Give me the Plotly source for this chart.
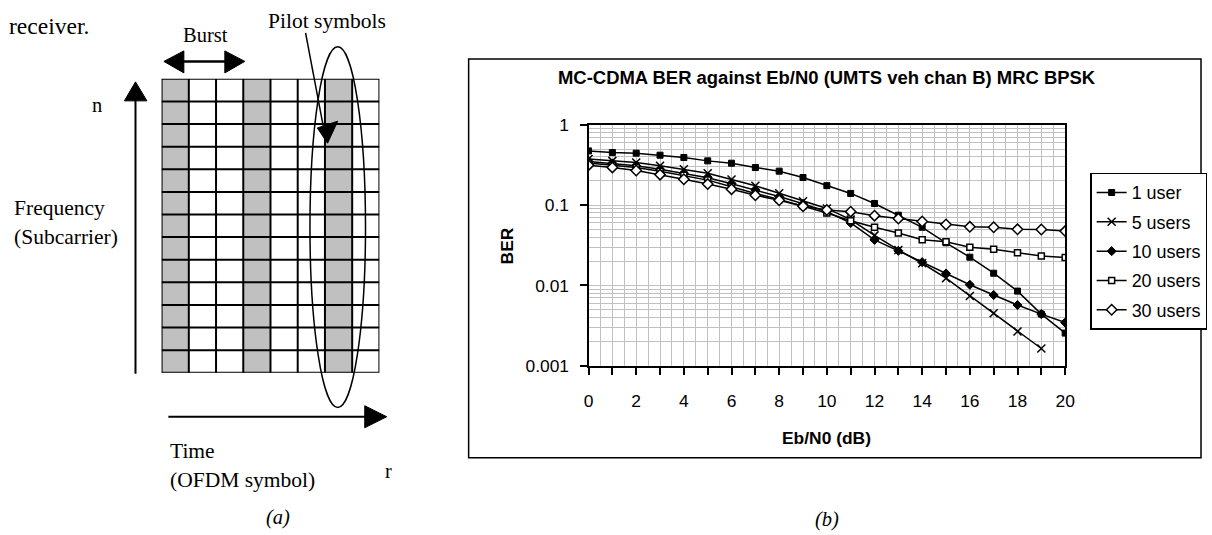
import plotly.graph_objects as go

W, H = 1212, 535

# ---------------- data (chart b) ----------------
ebn0 = list(range(21))
ber_1user = [0.474, 0.452, 0.444, 0.419, 0.392, 0.356, 0.333, 0.294, 0.265, 0.221, 0.175,
             0.140, 0.105, 0.075, 0.053, 0.034, 0.0225, 0.0142, 0.0085, 0.0044, 0.00255]
ber_5users = [0.375, 0.356, 0.340, 0.310, 0.280, 0.250, 0.209, 0.174, 0.141, 0.112, 0.091,
              0.066, 0.042, 0.0277, 0.0189, 0.0123, 0.0074, 0.0045, 0.00267, 0.00164]
ber_10users = [0.350, 0.330, 0.310, 0.280, 0.250, 0.220, 0.185, 0.155, 0.128, 0.104, 0.083,
               0.060, 0.037, 0.027, 0.0195, 0.0141, 0.0102, 0.0076, 0.0057, 0.0044, 0.00345]
ber_20users = [0.335, 0.315, 0.295, 0.265, 0.235, 0.205, 0.170, 0.140, 0.118, 0.098, 0.080,
               0.064, 0.053, 0.045, 0.037, 0.035, 0.030, 0.0283, 0.0255, 0.0232, 0.0223]
ber_30users = [0.315, 0.295, 0.270, 0.240, 0.210, 0.183, 0.158, 0.133, 0.115, 0.097, 0.087,
               0.083, 0.074, 0.068, 0.0625, 0.0574, 0.0537, 0.053, 0.050, 0.0498, 0.0475]
series_names = ["1 user", "5 users", "10 users", "20 users", "30 users"]

x_tickvals = list(range(0, 21))
x_ticktext = [str(v) if v % 2 == 0 else "" for v in x_tickvals]
y_tickvals = [0.001, 0.01, 0.1, 1]
y_ticktext = ["0.001", "0.01", "0.1", "1"]

chart_title = "MC-CDMA BER against Eb/N0 (UMTS veh chan B) MRC BPSK"
x_title = "Eb/N0 (dB)"
y_title = "BER"

# ---------------- data (diagram a) ----------------
n_rows, n_cols = 13, 8
pilot_cols = [0, 3, 6]

SANS = "Liberation Sans, Arial, sans-serif"
SERIF = "Liberation Serif, Times New Roman, serif"

# mapping of target-picture pixel positions to the page (the photographed
# page lands slightly inset in the returned picture)
AX, BX = 0.9884, 6.0
AY, BY = 0.963, 9.1
FS = 1.025  # font scale to match the inset


def X(px):
    return min(((px - BX) / AX) / W, 1.0)


def Y(py):
    return 1 - ((py - BY) / AY) / H


def f(s):
    return round(s * FS, 2)


fig = go.Figure()

marker_styles = [
    dict(symbol="square", size=6, color="black", line=dict(color="black", width=1)),
    dict(symbol="x-thin", size=8, color="black", line=dict(color="black", width=1.5)),
    dict(symbol="diamond", size=7, color="black", line=dict(color="black", width=1)),
    dict(symbol="square", size=6, color="white", line=dict(color="black", width=1.5)),
    dict(symbol="diamond", size=8, color="white", line=dict(color="black", width=1.5)),
]
series = [ber_1user, ber_5users, ber_10users, ber_20users, ber_30users]
for name, ys, mk in zip(series_names, series, marker_styles):
    fig.add_trace(go.Scatter(
        x=ebn0[:len(ys)], y=ys, name=name, mode="lines+markers",
        line=dict(color="black", width=1.5), marker=mk,
        legendgroup=name, xaxis="x", yaxis="y",
    ))

# Diagram grid shading via heatmap on its own axes
z = [[1 if c in pilot_cols else 0 for c in range(n_cols)] for r in range(n_rows)]
fig.add_trace(go.Heatmap(
    z=z, x=[c + 0.5 for c in range(n_cols)], y=[r + 0.5 for r in range(n_rows)],
    colorscale=[[0, "white"], [1, "#c0c0c0"]], showscale=False, hoverinfo="skip",
    xaxis="x2", yaxis="y2", showlegend=False,
))

shapes = []
for c in range(n_cols + 1):
    shapes.append(dict(type="line", xref="x2", yref="y2", x0=c, x1=c, y0=0, y1=n_rows,
                       line=dict(color="black", width=2)))
for r in range(n_rows + 1):
    shapes.append(dict(type="line", xref="x2", yref="y2", x0=0, x1=n_cols, y0=r, y1=r,
                       line=dict(color="black", width=2)))


def pline(x0, y0, x1, y1, w=2):
    shapes.append(dict(type="line", xref="paper", yref="paper",
                       x0=X(x0), y0=Y(y0), x1=X(x1), y1=Y(y1),
                       line=dict(color="black", width=w)))


def tri(pts):
    path = "M " + " L ".join(f"{X(a):.5f},{Y(b):.5f}" for a, b in pts) + " Z"
    shapes.append(dict(type="path", xref="paper", yref="paper", path=path,
                       fillcolor="black", line=dict(color="black", width=1)))


# Burst double arrow
pline(180, 60.5, 228, 60.5, 2.5)
tri([(165, 60.5), (185, 50), (185, 72)])
tri([(246, 60.5), (226, 50), (226, 72)])
# Frequency arrow
pline(136.6, 373, 136.6, 98, 2)
tri([(136.6, 81), (125.5, 100), (148, 100)])
# Time arrow
pline(169.5, 416, 368, 416, 2)
tri([(388, 416), (366, 405), (366, 427)])
# Pilot arrow
pline(306.8, 32, 325, 128, 1.5)
tri([(328.8, 142.4), (318.6, 127.1), (339, 120.3)])
# ellipse around the pilot column
shapes.append(dict(type="circle", xref="paper", yref="paper",
                   x0=X(311.2), x1=X(366.8), y0=Y(406.8), y1=Y(45.8),
                   line=dict(color="black", width=1.5)))
# chart outer frame
shapes.append(dict(type="rect", xref="paper", yref="paper",
                   x0=X(470), x1=1211 / W, y0=Y(457), y1=Y(58),
                   line=dict(color="black", width=1.5), layer="below"))
fig.update_layout(shapes=shapes)


def ann(text, x, y, size, font=SERIF, xanchor="center", italic=False, bold=False, angle=0,
        yanchor="middle", yp=None):
    t = text
    if bold:
        t = f"<b>{t}</b>"
    if italic:
        t = f"<i>{t}</i>"
    fig.add_annotation(text=t, x=X(x), y=Y(y) if yp is None else yp, xref="paper", yref="paper",
                       showarrow=False, xanchor=xanchor, yanchor=yanchor,
                       font=dict(family=font, size=f(size), color="black"), textangle=angle)


# top-left running text, kept fully inside the page
ann("receiver.", 8, 0, 23, xanchor="left", yanchor="top", yp=1 - 1.0 / H)
ann("Burst", 207, 34, 20)
ann("Pilot symbols", 328, 20, 21)
ann("n", 98, 104, 20)
ann("Frequency", 13, 207, 21, xanchor="left")
ann("(Subcarrier)", 13, 236, 21, xanchor="left")
ann("Time", 169, 450, 21, xanchor="left")
ann("(OFDM symbol)", 169, 479, 21, xanchor="left")
ann("r", 390, 470, 20)
ann("(a)", 279, 517, 20, italic=True)
ann("(b)", 829, 519, 20, italic=True)

ann(chart_title, 829, 77, 18, font=SANS, bold=True)
ann(x_title, 828, 437, 17, font=SANS, bold=True)
ann(y_title, 508, 245, 17, font=SANS, bold=True, angle=-90)

fig.update_layout(
    width=W, height=H, margin=dict(l=0, r=0, t=0, b=0),
    paper_bgcolor="white", plot_bgcolor="white",
    font=dict(family=SANS, size=f(17), color="black"),
    xaxis=dict(domain=[X(590), X(1067)], range=[0, 20], tickmode="array",
               tickvals=x_tickvals, ticktext=x_ticktext, ticks="outside", ticklen=7,
               tickwidth=1.5, tickcolor="black",
               showline=True, linecolor="black", linewidth=2, mirror=True,
               showgrid=True, gridcolor="#c0c0c0", gridwidth=1,
               minor=dict(dtick=0.5, showgrid=True, gridcolor="#c0c0c0", gridwidth=1, ticks=""),
               zeroline=False, ticklabelstandoff=11, tickfont=dict(size=f(17))),
    yaxis=dict(domain=[Y(365), Y(124)], type="log", range=[-3, 0], tickmode="array",
               tickvals=y_tickvals, ticktext=y_ticktext, ticks="outside", ticklen=7,
               tickwidth=1.5, tickcolor="black",
               showline=True, linecolor="black", linewidth=2, mirror=True,
               showgrid=True, gridcolor="#c0c0c0", gridwidth=1,
               minor=dict(dtick="D1", showgrid=True, gridcolor="#c0c0c0", gridwidth=1, ticks=""),
               zeroline=False, ticklabelstandoff=7, tickfont=dict(size=f(17))),
    xaxis2=dict(domain=[X(162.7), X(380.7)], range=[0, n_cols], visible=False, anchor="y2"),
    yaxis2=dict(domain=[Y(372), Y(78)], range=[0, n_rows], visible=False, anchor="x2"),
    legend=dict(x=X(1092), y=Y(172), xanchor="left", yanchor="top",
                bordercolor="black", borderwidth=1.5, bgcolor="white",
                font=dict(family=SANS, size=f(17.5)), tracegroupgap=3, itemwidth=30),
    showlegend=True,
)

fig.write_html("out.html", config={"displayModeBar": False},
               post_script="document.body.style.margin='0';document.body.style.overflow='hidden';")
